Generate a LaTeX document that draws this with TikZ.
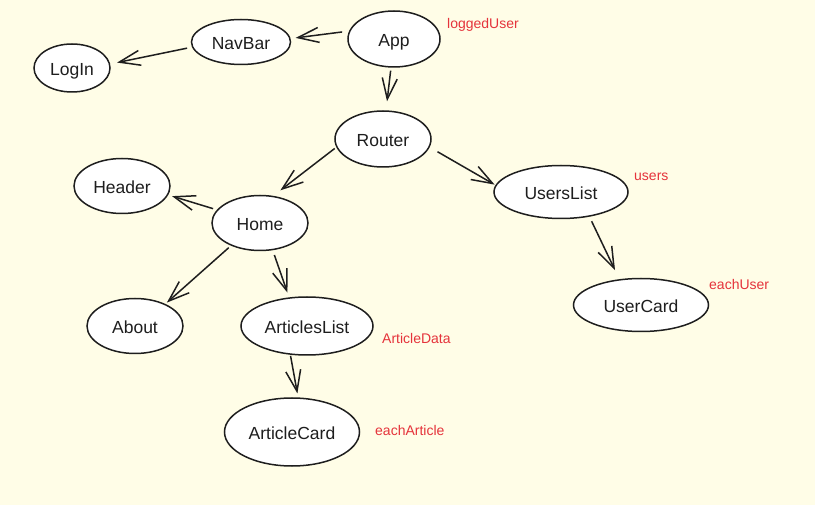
\documentclass[tikz,border=0pt]{standalone}
\usepackage{fontspec}
\setmainfont{Liberation Sans}
\usetikzlibrary{shapes.geometric,arrows.meta}
\definecolor{bg}{HTML}{FFFDE7}
\definecolor{ink}{HTML}{1E1E1E}
\definecolor{lbl}{HTML}{E5333B}
\tikzset{
  comp/.style={ellipse, draw=ink, fill=white, line width=1.5pt, inner sep=0pt,
    text=ink, font=\fontsize{17.5}{20}\selectfont, text height=15pt, text depth=0pt},
  arr/.style={draw=ink, line width=1.5pt,
    -{Straight Barb[length=21pt, width=15pt, line width=1.5pt]}},
  prop/.style={anchor=west, inner sep=0pt, text=lbl, font=\fontsize{14}{16}\selectfont}
}
\begin{document}
\begin{tikzpicture}[x=1pt, y=-1pt]
\fill[bg] (0,0) rectangle (815,505);
\useasboundingbox (0,0) rectangle (815,505);

\node[comp, minimum width=92pt, minimum height=56pt] (App) at (394,39) {App};
\node[comp, minimum width=99pt, minimum height=45pt] (NavBar) at (241,42) {NavBar};
\node[comp, minimum width=76pt, minimum height=48pt] (LogIn) at (72,68) {LogIn};
\node[comp, minimum width=96pt, minimum height=56pt] (Router) at (383,139) {Router};
\node[comp, minimum width=96pt, minimum height=55pt] (Header) at (122,186) {Header};
\node[comp, minimum width=96pt, minimum height=55pt] (Home) at (260,223) {Home};
\node[comp, minimum width=134pt, minimum height=53pt] (UsersList) at (561,192) {UsersList};
\node[comp, minimum width=135pt, minimum height=53pt] (UserCard) at (641,305) {UserCard};
\node[comp, minimum width=96pt, minimum height=55pt] (About) at (135,326) {About};
\node[comp, minimum width=132pt, minimum height=58pt] (ArticlesList) at (307,326) {ArticlesList};
\node[comp, minimum width=135pt, minimum height=68pt] (ArticleCard) at (292,432) {ArticleCard};

\node[prop] (pLogged) at (447,25) {loggedUser};
\node[prop] (pUsers) at (634,177) {users};
\node[prop] (pEachUser) at (709,284) {eachUser};
\node[prop] (pArtData) at (382,338) {ArticleData};
\node[prop] (pEachArt) at (375,430) {eachArticle};

\draw[arr, shorten <=7pt, shorten >=5pt] (App.170) -- (NavBar.4);
\draw[arr, shorten <=5pt, shorten >=7pt] (NavBar.186) -- (LogIn.6);
\draw[arr, shorten <=3pt, shorten >=9pt] (App.264) -- (Router.84);
\draw[arr, shorten <=2pt, shorten >=9pt] (Router.190) -- (Home.64);
\draw[arr, shorten <=9pt, shorten >=1pt] (Router.350) -- (UsersList.174);
\draw[arr, shorten <=4pt, shorten >=4pt] (Home.163) -- (Header.349);
\draw[arr, shorten <=3pt, shorten >=2pt] (Home.218) -- (About.36);
\draw[arr, shorten <=5pt, shorten >=5pt] (Home.295) -- (ArticlesList.122);
\draw[arr, shorten <=5pt, shorten >=10pt] (UsersList.319) -- (UserCard.130);
\draw[arr, shorten <=1pt, shorten >=4pt] (ArticlesList.240) -- (ArticleCard.80);
\end{tikzpicture}
\end{document}
